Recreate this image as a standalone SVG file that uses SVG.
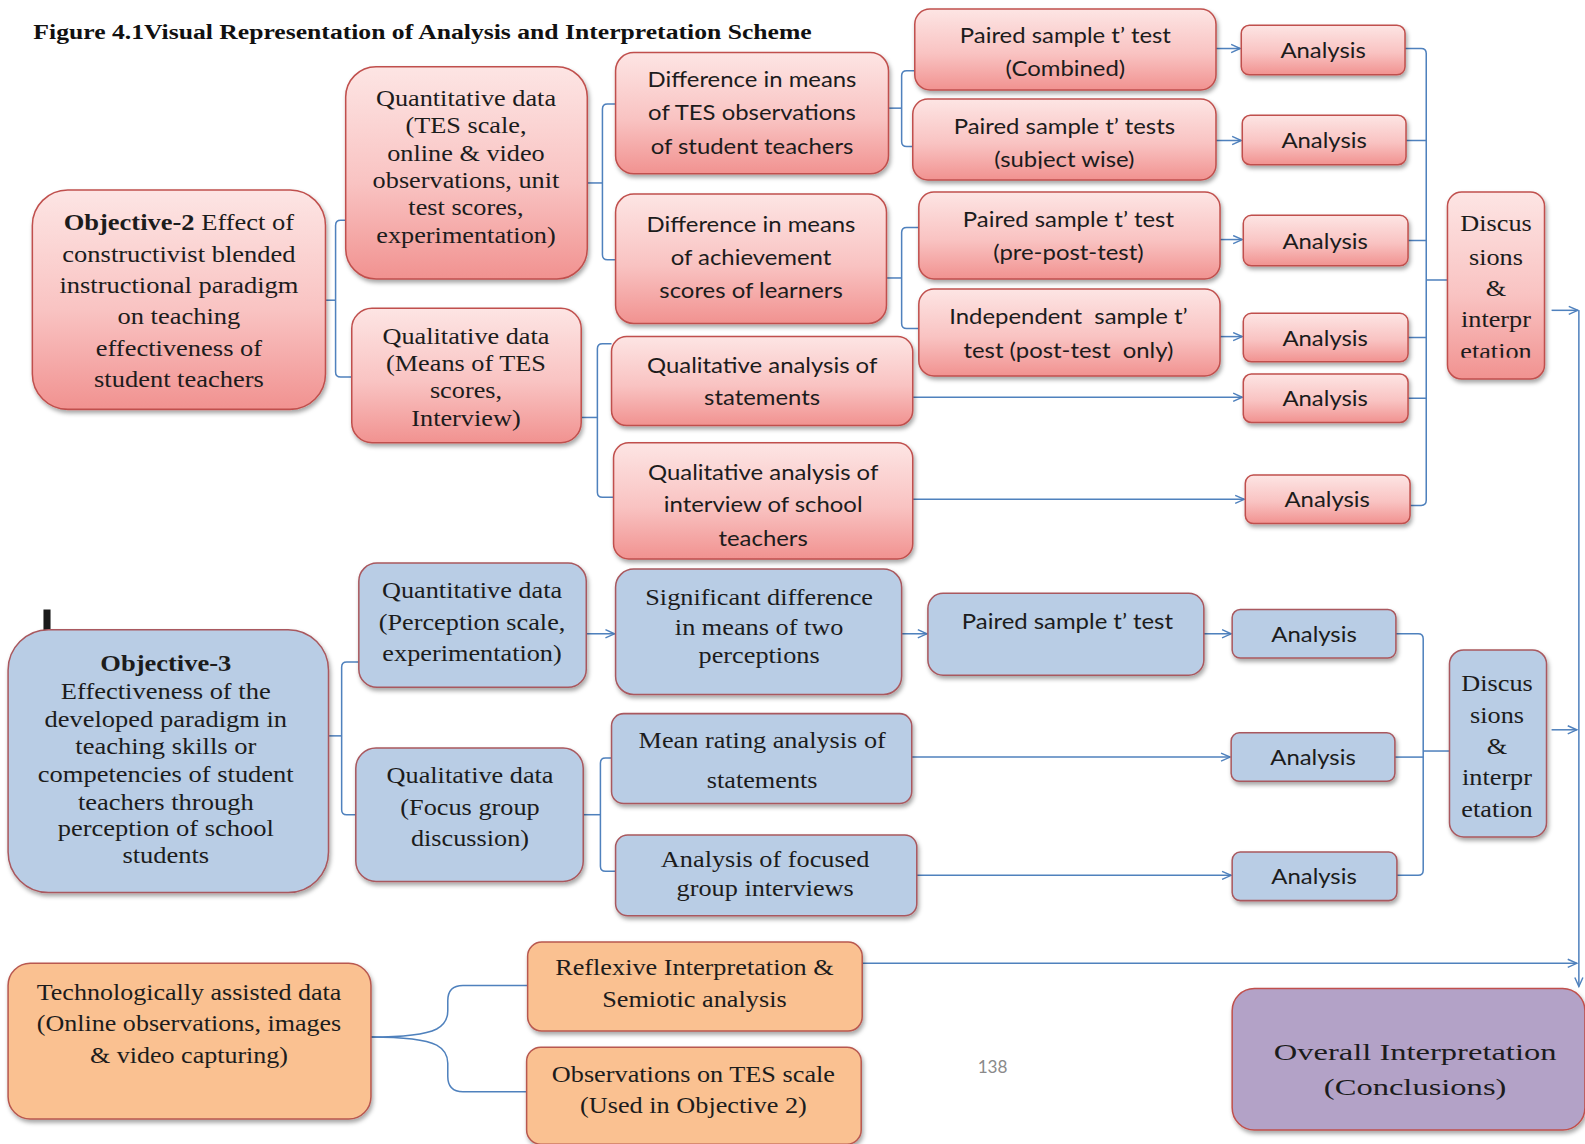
<svg xmlns="http://www.w3.org/2000/svg" width="1585" height="1144" viewBox="0 0 1585 1144">
<defs>
  <linearGradient id="gRed" x1="0" y1="0" x2="0" y2="1">
    <stop offset="0" stop-color="#fde5e4"/>
    <stop offset="0.55" stop-color="#f9c3c2"/>
    <stop offset="1" stop-color="#f19290"/>
  </linearGradient>
  <filter id="sh" x="-10%" y="-10%" width="125%" height="130%">
    <feDropShadow dx="1.5" dy="3" stdDeviation="2" flood-color="#000" flood-opacity="0.35"/>
  </filter>
  <marker id="ah" markerWidth="12" markerHeight="10" refX="10" refY="5" orient="auto" markerUnits="userSpaceOnUse">
    <path d="M1,1 L10,5 L1,9" fill="none" stroke="#4f81bd" stroke-width="1.4"/>
  </marker>
  <clipPath id="clipSubj"><rect x="900" y="95" width="310" height="72"/></clipPath>
  <clipPath id="clipDisc"><rect x="1430" y="188" width="100" height="166"/></clipPath>
  <style>
    .red{fill:url(#gRed);stroke:#c0504d;stroke-width:1.5;filter:url(#sh)}
    .blue{fill:#b9cde5;stroke:#a9585e;stroke-width:1.5;filter:url(#sh)}
    .orange{fill:#fac191;stroke:#b8584f;stroke-width:1.5;filter:url(#sh)}
    .purple{fill:#b3a2c7;stroke:#c0504d;stroke-width:1.5;filter:url(#sh)}
    .sans{font-family:Lato,"Liberation Sans",sans-serif;font-size:21.5px;fill:#1c1c1c;text-anchor:middle}
    .serif{font-family:"Liberation Serif","Times New Roman",serif;font-size:23px;fill:#1c1c1c;text-anchor:middle}
    .conn{fill:none;stroke:#4f81bd;stroke-width:1.5}
    .arr{marker-end:url(#ah)}
  </style>
</defs>
<rect width="1585" height="1144" fill="#ffffff"/>
<g transform="scale(1.0108)">

<text x="33" y="39" font-family="'Liberation Serif',serif" font-weight="bold" font-size="21.5" fill="#111" textLength="770" lengthAdjust="spacingAndGlyphs">Figure 4.1Visual Representation of Analysis and Interpretation Scheme</text>

<!-- connectors -->
<g id="connectors">
  <!-- objective 2 tree -->
  <path class="conn" d="M322,297 H332"/>
  <path class="conn" d="M342,218 H337 Q332,218 332,223 V368 Q332,373 337,373 H348"/>
  <path class="conn" d="M581,181 H596"/>
  <path class="conn" d="M609,103 H601 Q596,103 596,108 V252 Q596,257 601,257 H609"/>
  <path class="conn" d="M575,413 H591"/>
  <path class="conn" d="M605,340 H596 Q591,340 591,345 V487 Q591,492 596,492 H607"/>
  <path class="conn" d="M879,107 H892"/>
  <path class="conn" d="M905,70 H897 Q892,70 892,75 V140 Q892,145 897,145 H903"/>
  <path class="conn" d="M877,275 H892"/>
  <path class="conn" d="M909,225 H897 Q892,225 892,230 V320 Q892,325 897,325 H909"/>
  <path class="conn arr" d="M1203,48 H1227"/>
  <path class="conn arr" d="M1203,139 H1228"/>
  <path class="conn arr" d="M1207,237 H1229"/>
  <path class="conn arr" d="M1207,333 H1229"/>
  <path class="conn arr" d="M903,393 H1229"/>
  <path class="conn arr" d="M903,494 H1231"/>
  <path class="conn" d="M1390,48 H1406 Q1411,48 1411,53 V495 Q1411,500 1406,500 H1395"/>
  <path class="conn" d="M1391,139 H1411 M1393,238 H1411 M1393,334 H1411 M1393,394 H1411"/>
  <path class="conn" d="M1411,277 H1432"/>
  <path class="conn arr" d="M1535,307 H1561"/>
  <path class="conn arr" d="M1562,307 V976"/>
  <!-- objective 3 tree -->
  <path class="conn" d="M325,728 H338"/>
  <path class="conn" d="M355,655 H343 Q338,655 338,660 V801 Q338,806 343,806 H352"/>
  <path class="conn arr" d="M580,627 H608"/>
  <path class="conn arr" d="M892,627 H917"/>
  <path class="conn arr" d="M1191,627 H1218"/>
  <path class="conn" d="M577,806 H594"/>
  <path class="conn" d="M605,750 H599 Q594,750 594,755 V857 Q594,862 599,862 H609"/>
  <path class="conn arr" d="M902,749 H1217"/>
  <path class="conn arr" d="M907,866 H1218"/>
  <path class="conn" d="M1381,627 H1403 Q1408,627 1408,632 V861 Q1408,866 1403,866 H1382"/>
  <path class="conn" d="M1380,749 H1408"/>
  <path class="conn" d="M1408,743 H1434"/>
  <path class="conn arr" d="M1535,722 H1560"/>
  <!-- technology assisted data -->
  <path class="conn" d="M367,1026 C400,1026 420,1024 432,1018 Q443,1012 443,1000 V990 Q443,975 458,975 H522"/>
  <path class="conn" d="M367,1026 C400,1026 420,1028 432,1034 Q443,1040 443,1052 V1065 Q443,1080 458,1080 H521"/>
  <path class="conn arr" d="M853,953 H1560"/>
</g>

<!-- objective 2 branch -->
<g id="obj2">
  <rect class="red" x="32" y="188" width="290" height="217" rx="35"/>
  <text class="serif" font-size="23.5" transform="translate(177 0) scale(1.14 1)"><tspan x="0" y="228"><tspan font-weight="bold">Objective-2</tspan> Effect of</tspan><tspan x="0" y="259">constructivist blended</tspan><tspan x="0" y="290">instructional paradigm</tspan><tspan x="0" y="321">on teaching</tspan><tspan x="0" y="352">effectiveness of</tspan><tspan x="0" y="383">student teachers</tspan></text>
</g>
<g id="quant2">
  <rect class="red" x="342" y="66" width="239" height="210" rx="30"/>
  <text class="serif" transform="translate(461 0) scale(1.13 1)"><tspan x="0" y="105">Quantitative data</tspan><tspan x="0" y="132">(TES scale,</tspan><tspan x="0" y="159">online &amp; video</tspan><tspan x="0" y="186">observations, unit</tspan><tspan x="0" y="213">test scores,</tspan><tspan x="0" y="240">experimentation)</tspan></text>
</g>
<g id="qual2">
  <rect class="red" x="348" y="305" width="227" height="133" rx="20"/>
  <text class="serif" transform="translate(461 0) scale(1.13 1)"><tspan x="0" y="340">Qualitative data</tspan><tspan x="0" y="367">(Means of TES</tspan><tspan x="0" y="394">scores,</tspan><tspan x="0" y="421">Interview)</tspan></text>
</g>
<g id="diffTES">
  <rect class="red" x="609" y="52" width="270" height="120" rx="18"/>
  <text class="sans" transform="translate(744 0) scale(1.1 1)"><tspan x="0" y="86">Difference in means</tspan><tspan x="0" y="119">of TES observations</tspan><tspan x="0" y="152">of student teachers</tspan></text>
</g>
<g id="diffAch">
  <rect class="red" x="609" y="192" width="268" height="128" rx="18"/>
  <text class="sans" transform="translate(743 0) scale(1.1 1)"><tspan x="0" y="230">Difference in means</tspan><tspan x="0" y="262">of achievement</tspan><tspan x="0" y="295">scores of learners</tspan></text>
</g>
<g id="pairedCombined">
  <rect class="red" x="905" y="9" width="298" height="80" rx="15"/>
  <text class="sans" transform="translate(1054 0) scale(1.1 1)"><tspan x="0" y="43">Paired sample t’ test</tspan><tspan x="0" y="75">(Combined)</tspan></text>
</g>
<g id="pairedSubject">
  <rect class="red" x="903" y="98" width="300" height="80" rx="15"/>
  <g clip-path="url(#clipSubj)">
    <text class="sans" transform="translate(1053 0) scale(1.1 1)"><tspan x="0" y="133">Paired sample t’ tests</tspan><tspan x="0" y="165">(subject wise)</tspan></text>
  </g>
</g>
<g id="pairedPrePost">
  <rect class="red" x="909" y="190" width="298" height="86" rx="15"/>
  <text class="sans" transform="translate(1057 0) scale(1.1 1)"><tspan x="0" y="225">Paired sample t’ test</tspan><tspan x="0" y="257">(pre-post-test)</tspan></text>
</g>
<g id="independent">
  <rect class="red" x="909" y="286" width="298" height="86" rx="15"/>
  <text class="sans" xml:space="preserve" transform="translate(1057 0) scale(1.1 1)"><tspan x="0" y="321">Independent  sample t’</tspan><tspan x="0" y="354">test (post-test  only)</tspan></text>
</g>
<g id="qualStatements">
  <rect class="red" x="605" y="333" width="298" height="88" rx="15"/>
  <text class="sans" transform="translate(754 0) scale(1.1 1)"><tspan x="0" y="369">Qualitative analysis of</tspan><tspan x="0" y="401">statements</tspan></text>
</g>
<g id="qualInterview">
  <rect class="red" x="607" y="438" width="296" height="115" rx="15"/>
  <text class="sans" transform="translate(755 0) scale(1.1 1)"><tspan x="0" y="475">Qualitative analysis of</tspan><tspan x="0" y="507">interview of school</tspan><tspan x="0" y="540">teachers</tspan></text>
</g>
<g id="analysisR1"><rect class="red" x="1228" y="25" width="162" height="49" rx="8"/><text class="sans" transform="translate(1309 57) scale(1.1 1)">Analysis</text></g>
<g id="analysisR2"><rect class="red" x="1229" y="114" width="162" height="49" rx="8"/><text class="sans" transform="translate(1310 146) scale(1.1 1)">Analysis</text></g>
<g id="analysisR3"><rect class="red" x="1230" y="213" width="163" height="50" rx="8"/><text class="sans" transform="translate(1311 246) scale(1.1 1)">Analysis</text></g>
<g id="analysisR4"><rect class="red" x="1230" y="310" width="163" height="48" rx="8"/><text class="sans" transform="translate(1311 342) scale(1.1 1)">Analysis</text></g>
<g id="analysisR5"><rect class="red" x="1230" y="370" width="163" height="48" rx="8"/><text class="sans" transform="translate(1311 402) scale(1.1 1)">Analysis</text></g>
<g id="analysisR6"><rect class="red" x="1232" y="470" width="163" height="48" rx="8"/><text class="sans" transform="translate(1313 502) scale(1.1 1)">Analysis</text></g>
<g id="discussRed">
  <rect class="red" x="1432" y="190" width="96" height="185" rx="14"/>
  <g clip-path="url(#clipDisc)">
    <text class="serif" font-size="22.5" transform="translate(1480 0) scale(1.13 1)"><tspan x="0" y="229">Discus</tspan><tspan x="0" y="262">sions</tspan><tspan x="0" y="293">&amp;</tspan><tspan x="0" y="324">interpr</tspan><tspan x="0" y="355">etation</tspan></text>
  </g>
</g>

<!-- objective 3 branch -->
<rect x="43" y="603" width="7" height="25" fill="#1a1a1a"/>
<g id="obj3">
  <rect class="blue" x="8" y="623" width="317" height="260" rx="40"/>
  <text class="serif" transform="translate(164 0) scale(1.14 1)"><tspan x="0" y="664" font-weight="bold">Objective-3</tspan><tspan x="0" y="692">Effectiveness of the</tspan><tspan x="0" y="719">developed paradigm in</tspan><tspan x="0" y="746">teaching skills or</tspan><tspan x="0" y="774">competencies of student</tspan><tspan x="0" y="801">teachers through</tspan><tspan x="0" y="827">perception of school</tspan><tspan x="0" y="854">students</tspan></text>
</g>
<g id="quant3">
  <rect class="blue" x="355" y="557" width="225" height="123" rx="18"/>
  <text class="serif" transform="translate(467 0) scale(1.13 1)"><tspan x="0" y="592">Quantitative data</tspan><tspan x="0" y="623">(Perception scale,</tspan><tspan x="0" y="654">experimentation)</tspan></text>
</g>
<g id="qual3">
  <rect class="blue" x="352" y="740" width="225" height="132" rx="20"/>
  <text class="serif" transform="translate(465 0) scale(1.13 1)"><tspan x="0" y="775">Qualitative data</tspan><tspan x="0" y="806">(Focus group</tspan><tspan x="0" y="837">discussion)</tspan></text>
</g>
<g id="sigDiff">
  <rect class="blue" x="609" y="563" width="283" height="124" rx="18"/>
  <text class="serif" transform="translate(751 0) scale(1.13 1)"><tspan x="0" y="599">Significant difference</tspan><tspan x="0" y="628">in means of two</tspan><tspan x="0" y="656">perceptions</tspan></text>
</g>
<g id="pairedBlue">
  <rect class="blue" x="918" y="587" width="273" height="81" rx="15"/>
  <text class="sans" transform="translate(1056 622) scale(1.1 1)">Paired sample t’ test</text>
</g>
<g id="meanRating">
  <rect class="blue" x="605" y="706" width="297" height="89" rx="12"/>
  <text class="serif" transform="translate(754 0) scale(1.13 1)"><tspan x="0" y="740">Mean rating analysis of</tspan><tspan x="0" y="780">statements</tspan></text>
</g>
<g id="focusedInterviews">
  <rect class="blue" x="609" y="826" width="298" height="80" rx="12"/>
  <text class="serif" transform="translate(757 0) scale(1.13 1)"><tspan x="0" y="858">Analysis of focused</tspan><tspan x="0" y="886">group interviews</tspan></text>
</g>
<g id="analysisB1"><rect class="blue" x="1219" y="603" width="162" height="48" rx="8"/><text class="sans" transform="translate(1300 635) scale(1.1 1)">Analysis</text></g>
<g id="analysisB2"><rect class="blue" x="1218" y="725" width="162" height="48" rx="8"/><text class="sans" transform="translate(1299 757) scale(1.1 1)">Analysis</text></g>
<g id="analysisB3"><rect class="blue" x="1219" y="843" width="163" height="48" rx="8"/><text class="sans" transform="translate(1300 875) scale(1.1 1)">Analysis</text></g>
<g id="discussBlue">
  <rect class="blue" x="1434" y="643" width="96" height="185" rx="14"/>
  <text class="serif" font-size="22.5" transform="translate(1481 0) scale(1.13 1)"><tspan x="0" y="684">Discus</tspan><tspan x="0" y="715">sions</tspan><tspan x="0" y="746">&amp;</tspan><tspan x="0" y="777">interpr</tspan><tspan x="0" y="808">etation</tspan></text>
</g>

<!-- technology assisted data -->
<g id="techData">
  <rect class="orange" x="8" y="953" width="359" height="154" rx="22"/>
  <text class="serif" transform="translate(187 0) scale(1.12 1)"><tspan x="0" y="989">Technologically assisted data</tspan><tspan x="0" y="1020">(Online observations, images</tspan><tspan x="0" y="1052">&amp; video capturing)</tspan></text>
</g>
<g id="reflexive">
  <rect class="orange" x="522" y="932" width="331" height="88" rx="14"/>
  <text class="serif" transform="translate(687 0) scale(1.13 1)"><tspan x="0" y="965">Reflexive Interpretation &amp;</tspan><tspan x="0" y="996">Semiotic analysis</tspan></text>
</g>
<g id="tesObservations">
  <rect class="orange" x="521" y="1036" width="331" height="96" rx="14"/>
  <text class="serif" transform="translate(686 0) scale(1.13 1)"><tspan x="0" y="1070">Observations on TES scale</tspan><tspan x="0" y="1101">(Used in Objective 2)</tspan></text>
</g>

<!-- conclusions -->
<g id="overall">
  <rect class="purple" x="1219" y="978" width="349" height="140" rx="22"/>
  <text class="serif" font-size="32" transform="translate(1400 0) scale(1.4 1)"><tspan x="0" y="1049">Overall Interpretation</tspan><tspan x="0" y="1083">(Conclusions)</tspan></text>
</g>

<text x="982" y="1062" font-family="Lato,'Liberation Sans',sans-serif" font-size="17" fill="#8a8a8a" text-anchor="middle">138</text>
</g>
</svg>
